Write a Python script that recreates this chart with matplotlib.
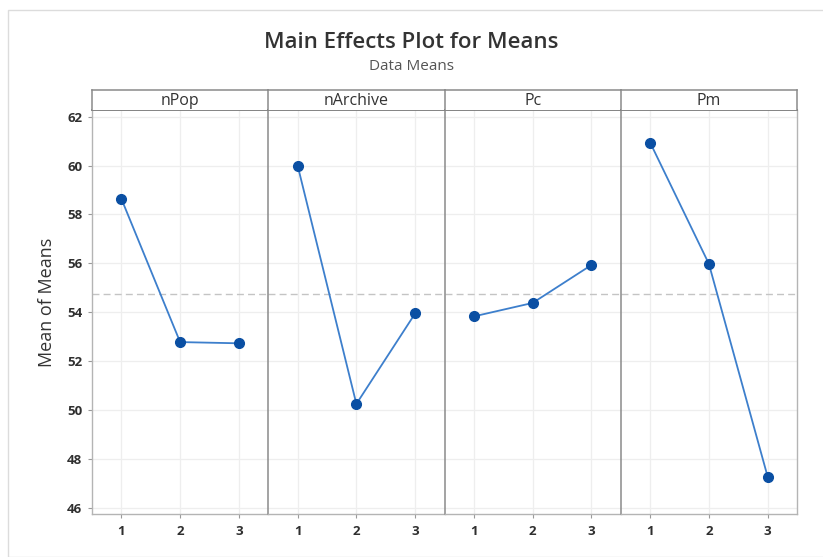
import matplotlib
matplotlib.use("Agg")
import matplotlib.pyplot as plt
from matplotlib.patches import Rectangle

plt.rcParams['font.family'] = ['Open Sans', 'DejaVu Sans']

factors = ["nPop", "nArchive", "Pc", "Pm"]
levels = [1, 2, 3]
means_npop = [58.64, 52.78, 52.73]
means_narchive = [60.00, 50.25, 53.95]
means_pc = [53.83, 54.38, 55.93]
means_pm = [60.94, 55.98, 47.28]
grand_mean = 54.74
yticks = [46, 48, 50, 52, 54, 56, 58, 60, 62]

series = [means_npop, means_narchive, means_pc, means_pm]

fig = plt.figure(figsize=(8.23, 5.57), dpi=100)
fig.patch.set_facecolor("white")

# light frame around the whole graph
fig.add_artist(Rectangle((8 / 823, 0.0), 1.2, 1 - 10 / 557, transform=fig.transFigure,
                         fill=False, edgecolor="#dcdcdc", linewidth=1.0))

left, right = 92 / 823, 797 / 823
bottom, top = 1 - 514 / 557, 1 - 110 / 557
strip_top = 1 - 90 / 557
w = (right - left) / 4

line_color = "#3d7fcc"
marker_color = "#0a4fa3"
grid_color = "#eeeeee"
spine_color = "#b4b4b4"
sep_color = "#8a8a8a"

for i, (name, vals) in enumerate(zip(factors, series)):
    ax = fig.add_axes([left + i * w, bottom, w, top - bottom])
    ax.set_xlim(0.5, 3.5)
    ax.set_ylim(45.75, 62.27)
    ax.set_xticks(levels)
    ax.set_yticks(yticks)
    ax.grid(True, color=grid_color, linewidth=0.9)
    ax.set_axisbelow(True)
    ax.axhline(grand_mean, color="#c4c4c4", linestyle=(0, (5, 3)), linewidth=1.0, zorder=1)
    ax.plot(levels, vals, color=line_color, linewidth=1.3, zorder=2)
    ax.plot(levels, vals, linestyle="none", marker="o", markersize=7,
            color=marker_color, zorder=3)
    for s in ["top", "bottom", "left", "right"]:
        ax.spines[s].set_color(spine_color)
        ax.spines[s].set_linewidth(1.0)
    ax.spines["top"].set_color("#7a7a7a")
    ax.spines["top"].set_linewidth(1.3)
    if i > 0:
        ax.spines["left"].set_color(sep_color)
        ax.spines["left"].set_linewidth(1.1)
    if i < 3:
        ax.spines["right"].set_visible(False)
    ax.tick_params(axis="both", direction="out", length=3, color="#9a9a9a",
                   labelsize=9.5, labelcolor="#2f2f2f", pad=4)
    ax.tick_params(axis="x", pad=5)
    if i == 0:
        ax.set_ylabel("Mean of Means", fontsize=13, color="#333333")
        ax.yaxis.set_label_coords(-0.205, 0.525)
    else:
        ax.tick_params(axis="y", left=False, labelleft=False)
    for lab in ax.get_xticklabels() + ax.get_yticklabels():
        lab.set_fontweight("bold")

    # factor header strip
    sax = fig.add_axes([left + i * w, top, w, strip_top - top])
    sax.set_xticks([])
    sax.set_yticks([])
    sax.set_facecolor("white")
    for s in ["top", "bottom", "left", "right"]:
        sax.spines[s].set_color(sep_color)
        sax.spines[s].set_linewidth(1.1)
    sax.spines["bottom"].set_visible(False)
    if i < 3:
        sax.spines["right"].set_visible(False)
    sax.text(0.5, 0.45, name, ha="center", va="center", fontsize=11.5, color="#333333",
             transform=sax.transAxes)

fig.text(0.5, 1 - 42 / 557, "Main Effects Plot for Means", ha="center", va="center",
         fontsize=16, color="#333333", fontweight="semibold")
fig.text(0.5, 1 - 66 / 557, "Data Means", ha="center", va="center",
         fontsize=11, color="#555555")

fig.savefig("out.png", dpi=100)
